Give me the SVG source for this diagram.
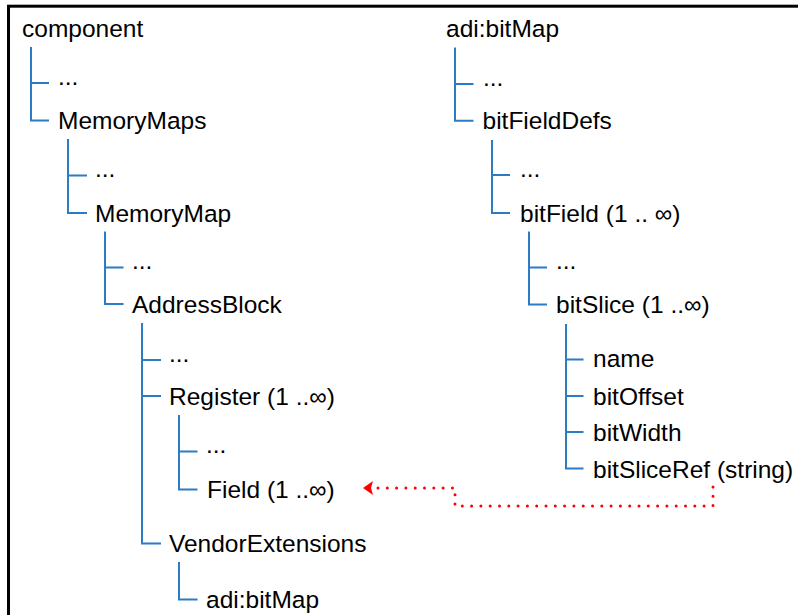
<svg xmlns="http://www.w3.org/2000/svg" width="798" height="615" viewBox="0 0 798 615">
<style>
text{font-family:"Liberation Sans",Arial,sans-serif;font-size:24.5px;fill:#000}
.t{fill:none;stroke:#2b7cc4;stroke-width:2}
.r{fill:none;stroke:#ff0000;stroke-width:3;stroke-linecap:round;stroke-dasharray:0 9.3}
</style>
<defs>
<marker id="ah" markerUnits="userSpaceOnUse" markerWidth="12" markerHeight="16" refX="0" refY="8" orient="auto" viewBox="0 0 12 16">
<path d="M0,1 L10,8 L0,15 L2,8 Z" fill="#ff0000"/>
</marker>
</defs>
<rect x="0" y="0" width="798" height="615" fill="#fff"/>
<rect x="8.5" y="6.2" width="820" height="640" fill="none" stroke="#000" stroke-width="3"/>
<g id="connectors">
<path class="t" d="M31,47 V120.5 H49 M31,83 H49"/>
<path class="t" d="M68,139 V213 H87 M68,175.5 H87"/>
<path class="t" d="M105,231.5 V304 H123.5 M105,267.5 H123.5"/>
<path class="t" d="M142,323 V543.5 H161 M142,360 H161 M142,396 H161"/>
<path class="t" d="M179,415 V489.5 H197.5 M179,451.5 H197.5"/>
<path class="t" d="M179,562 V599.5 H197.5"/>
<path class="t" d="M455,47.5 V120.7 H473.5 M455,84 H473.5"/>
<path class="t" d="M492,140 V213 H510 M492,175 H510"/>
<path class="t" d="M529,231.5 V304.5 H547 M529,267.5 H547"/>
<path class="t" d="M566,324 V468.5 H583.5 M566,359.5 H583.5 M566,396 H583.5 M566,432 H583.5"/>
<path class="r" d="M713,487 V506 H455 V488 H373" marker-end="url(#ah)"/>
</g>
<g id="component"><text x="22" y="37">component</text></g>
<g id="c-etc1"><text x="58" y="84.5">...</text></g>
<g id="memorymaps"><text x="58" y="129">MemoryMaps</text></g>
<g id="c-etc2"><text x="95" y="177">...</text></g>
<g id="memorymap"><text x="95" y="221.5">MemoryMap</text></g>
<g id="c-etc3"><text x="132" y="269">...</text></g>
<g id="addressblock"><text x="132" y="313">AddressBlock</text></g>
<g id="c-etc4"><text x="169" y="361.5">...</text></g>
<g id="register"><text x="169" y="405">Register (1 ..∞)</text></g>
<g id="c-etc5"><text x="206" y="453">...</text></g>
<g id="field"><text x="207" y="497.5">Field (1 ..∞)</text></g>
<g id="vendorextensions"><text x="169" y="552">VendorExtensions</text></g>
<g id="ve-bitmap"><text x="206" y="607.5">adi:bitMap</text></g>
<g id="bitmap"><text x="446" y="37">adi:bitMap</text></g>
<g id="b-etc1"><text x="483" y="85.5">...</text></g>
<g id="bitfielddefs"><text x="482.5" y="129">bitFieldDefs</text></g>
<g id="b-etc2"><text x="520" y="176.5">...</text></g>
<g id="bitfield"><text x="520" y="221.5">bitField (1 .. ∞)</text></g>
<g id="b-etc3"><text x="556" y="269">...</text></g>
<g id="bitslice"><text x="556" y="313">bitSlice (1 ..∞)</text></g>
<g id="name"><text x="593" y="367">name</text></g>
<g id="bitoffset"><text x="593" y="404.5">bitOffset</text></g>
<g id="bitwidth"><text x="593" y="440.5">bitWidth</text></g>
<g id="bitsliceref"><text x="593" y="477.5">bitSliceRef (string)</text></g>
</svg>
